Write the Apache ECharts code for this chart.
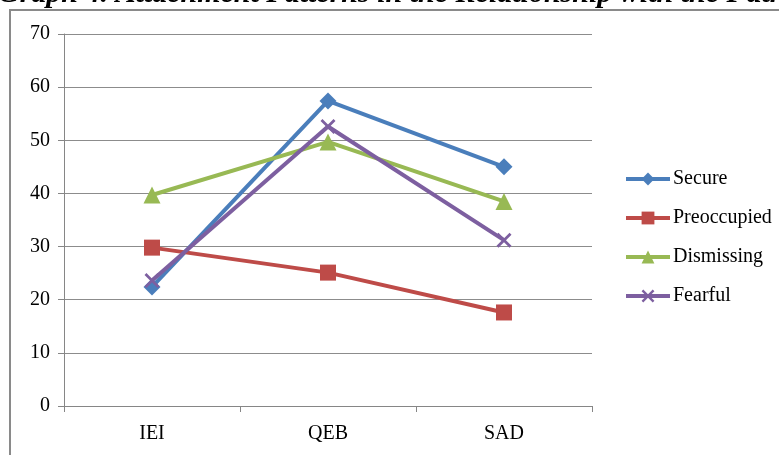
<!DOCTYPE html>
<html>
<head>
<meta charset="utf-8">
<script src="https://cdn.jsdelivr.net/npm/echarts@6/dist/echarts.min.js"></script>
<style>
  html, body { margin: 0; padding: 0; background: #fff; }
  #chart { width: 779px; height: 455px; }
</style>
</head>
<body>
<div id="chart"></div>
<script>
// Categories on the x axis
const categories = ['IEI', 'QEB', 'SAD'];

// Attachment pattern scores per measure
const secure      = [22.4, 57.4, 45.0];
const preoccupied = [29.8, 25.1, 17.6];
const dismissing  = [39.7, 49.7, 38.5];
const fearful     = [23.6, 52.6, 31.2];

const seriesNames = ['Secure', 'Preoccupied', 'Dismissing', 'Fearful'];
const yTicks = [0, 10, 20, 30, 40, 50, 60, 70];

const serif = '"Liberation Serif", "Times New Roman", serif';
const crossPath = 'path://M0,1.3L1.3,0L10,8.7L8.7,10Z M8.7,0L10,1.3L1.3,10L0,8.7Z';

function lineSeries(name, data, color, symbol, size) {
  return {
    name: name,
    type: 'line',
    data: data,
    symbol: symbol,
    symbolSize: size,
    lineStyle: { color: color, width: 4 },
    itemStyle: { color: color },
    emphasis: { disabled: true },
    animation: false
  };
}

const chart = echarts.init(document.getElementById('chart'), null, { renderer: 'canvas' });
chart.setOption({
  backgroundColor: '#ffffff',
  animation: false,
  graphic: [
    {
      type: 'text',
      x: -2,
      y: -6,
      style: {
        text: 'Graph 4. Attachment Patterns in the Relationship with the Father',
        font: 'italic bold 30px ' + serif,
        fill: '#000',
        verticalAlign: 'middle'
      }
    },
    {
      type: 'rect',
      shape: { x: 10, y: 10, width: 820, height: 480 },
      style: { fill: 'none', stroke: '#8a8a8a', lineWidth: 2 }
    }
  ],
  grid: { left: 64, right: 187, top: 34, bottom: 49, containLabel: false },
  legend: {
    orient: 'vertical',
    left: 624,
    top: 169,
    padding: 0,
    itemGap: 19,
    itemWidth: 44,
    itemHeight: 16,
    lineStyle: { width: 4 },
    textStyle: { fontFamily: serif, fontSize: 20, color: '#000', padding: [0, 0, 0, -2] },
    data: seriesNames
  },
  xAxis: {
    type: 'category',
    data: categories,
    boundaryGap: true,
    axisLine: { lineStyle: { color: '#868686', width: 1 } },
    axisTick: { show: true, length: 6, lineStyle: { color: '#868686' } },
    axisLabel: { fontFamily: serif, fontSize: 20, color: '#000', margin: 18 },
    splitLine: { show: false }
  },
  yAxis: {
    type: 'value',
    min: yTicks[0],
    max: yTicks[yTicks.length - 1],
    interval: 10,
    axisLine: { show: true, lineStyle: { color: '#868686', width: 1 } },
    axisTick: { show: true, length: 6, lineStyle: { color: '#868686' } },
    axisLabel: { fontFamily: serif, fontSize: 20, color: '#000', margin: 14 },
    splitLine: { show: true, lineStyle: { color: '#8c8c8c', width: 1 } }
  },
  series: [
    lineSeries(seriesNames[0], secure, '#4a7ebb', 'diamond', 17),
    lineSeries(seriesNames[1], preoccupied, '#be4b48', 'rect', 16),
    lineSeries(seriesNames[2], dismissing, '#98b954', 'triangle', 17),
    lineSeries(seriesNames[3], fearful, '#7d5fa0', crossPath, 15)
  ]
});
</script>
</body>
</html>
